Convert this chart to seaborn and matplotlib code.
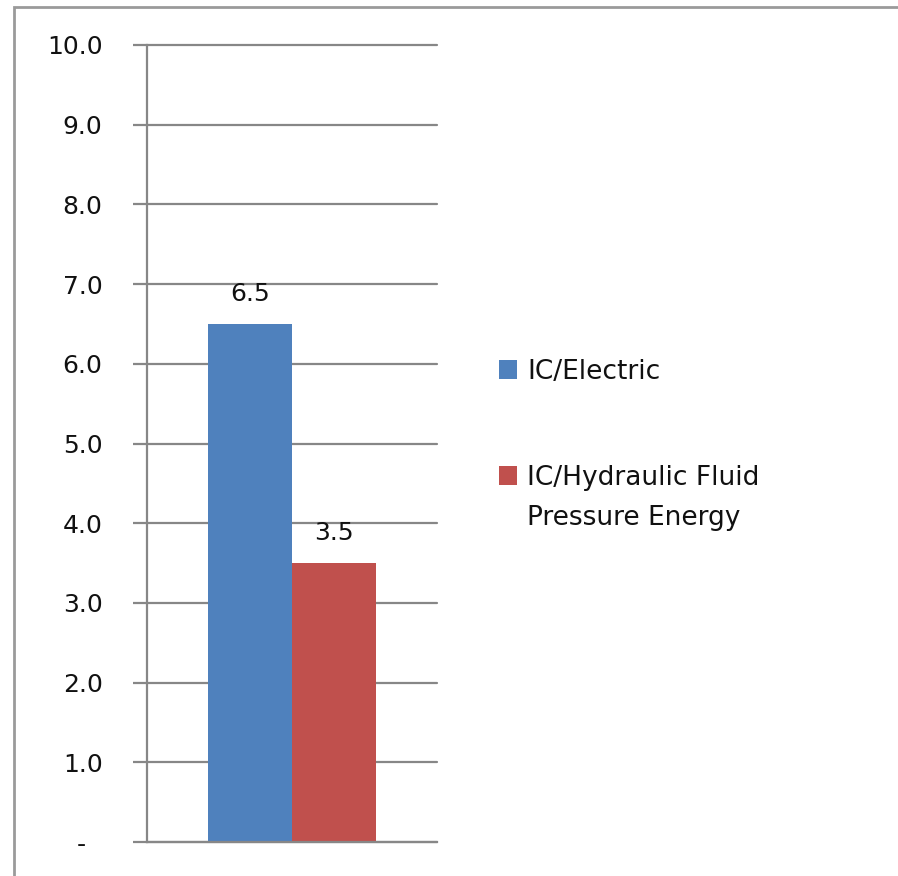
import matplotlib
matplotlib.use("Agg")
import matplotlib.pyplot as plt
from matplotlib.patches import Rectangle
import seaborn as sns
import pandas as pd

categories = [""]
series = ["IC/Electric", "IC/Hydraulic Fluid\nPressure Energy"]
values = [6.5, 3.5]
colors = ["#4F81BD", "#C0504D"]
yticks = [0, 1, 2, 3, 4, 5, 6, 7, 8, 9, 10]
ytick_labels = ["-  ", "1.0", "2.0", "3.0", "4.0", "5.0", "6.0", "7.0", "8.0", "9.0", "10.0"]

df = pd.DataFrame({"cat": categories * len(series), "series": series, "value": values})

sns.set_style("white")
plt.rcParams["font.family"] = ["DejaVu Sans"]

W, H = 898, 876
fig = plt.figure(figsize=(W / 100, H / 100), dpi=100)
ax = fig.add_axes([147 / W, 1 - 842 / H, (437 - 147) / W, (842 - 45) / H])

sns.barplot(data=df, x="cat", y="value", hue="series", hue_order=series,
            palette=colors, width=0.576, ax=ax, saturation=1, legend=False,
            linewidth=0, edgecolor="none")

ax.set_xlim(-0.5, 0.5)
ax.set_ylim(0, 10)
ax.set_yticks(yticks)
ax.set_yticklabels(ytick_labels, fontsize=18)
ax.set_xticks([])
ax.set_xlabel("")
ax.set_ylabel("")

grid_c = "#878787"
ax.yaxis.grid(True, color=grid_c, linewidth=1.6)
for gl in ax.get_ygridlines():
    gl.set_clip_on(False)
ax.set_axisbelow(True)
for s in ["top", "right"]:
    ax.spines[s].set_visible(False)
ax.spines["left"].set_color(grid_c)
ax.spines["left"].set_linewidth(1.6)
ax.spines["bottom"].set_color(grid_c)
ax.spines["bottom"].set_linewidth(1.6)
ax.tick_params(axis="y", length=10, width=1.6, color=grid_c, pad=22, labelcolor="#111111", left=True)

for cont in ax.containers:
    ax.bar_label(cont, fmt="%.1f", padding=13, fontsize=18, color="#111111")

# legend (drawn manually so the marker lines up with the first line of a wrapped label)
leg_baselines = [379, 485]
for lab, col, yb in zip(series, colors, leg_baselines):
    fig.patches.append(Rectangle((499 / W, 1 - yb / H), 18 / W, 19 / H,
                                 transform=fig.transFigure, facecolor=col, edgecolor="none"))
    fig.text(527 / W, 1 - (yb - 20) / H, lab, fontsize=19, va="top", ha="left",
             color="#111111", linespacing=1.7)

fig.patches.append(Rectangle((14 / W, -0.1), 1.2, 1 - 7 / H + 0.1, transform=fig.transFigure,
                             fill=False, edgecolor="#9a9a9a", linewidth=2, clip_on=False))

fig.savefig("out.png", dpi=100)
